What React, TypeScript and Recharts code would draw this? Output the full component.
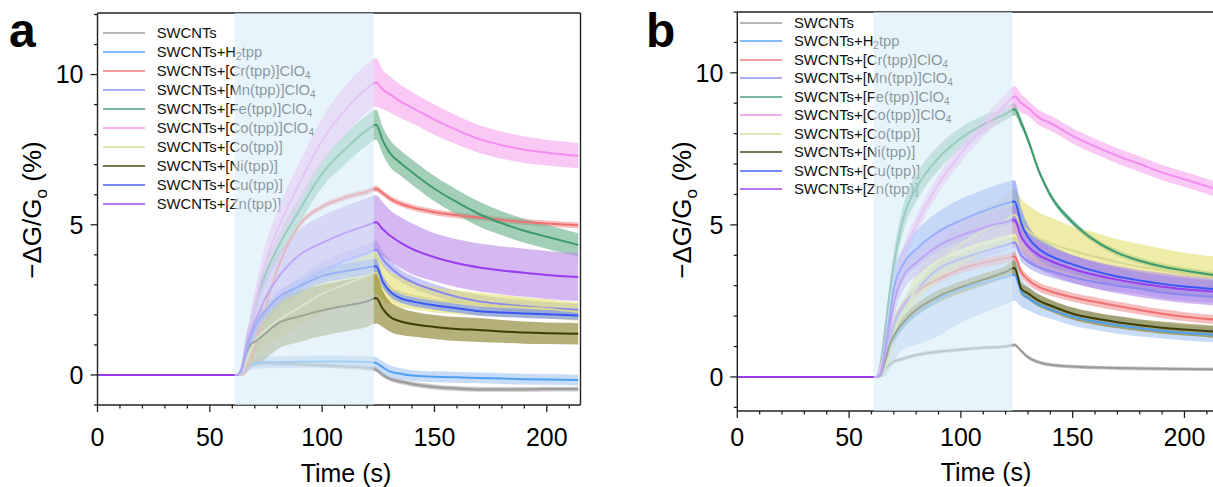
import React from 'react';
import { ComposedChart, Line, Area, XAxis, YAxis, ReferenceArea } from 'recharts';

const FONT = "'Liberation Sans', Arial, Helvetica, sans-serif";

// ---------- data ----------
const timesA = [0, 62, 64, 66, 68, 70, 75, 80, 90, 100, 110, 120, 124, 127, 130, 135, 140, 150, 160, 170, 180, 190, 200, 214];
const timesB = [0, 62, 64, 66, 68, 70, 75, 80, 90, 100, 110, 120, 124, 127, 130, 135, 140, 150, 160, 170, 180, 190, 200, 215];

const legendLabels = [
  'SWCNTs',
  'SWCNTs+H_2tpp',
  'SWCNTs+[Cr(tpp)]ClO_4',
  'SWCNTs+[Mn(tpp)]ClO_4',
  'SWCNTs+[Fe(tpp)]ClO_4',
  'SWCNTs+[Co(tpp)]ClO_4',
  'SWCNTs+[Co(tpp)]',
  'SWCNTs+[Ni(tpp)]',
  'SWCNTs+[Cu(tpp)]',
  'SWCNTs+[Zn(tpp)]',
];

// panel a: mean values
const aSWCNT = [0, 0, 0, 0.15, 0.3, 0.36, 0.39, 0.38, 0.35, 0.32, 0.28, 0.24, 0.18, 0.0, -0.12, -0.22, -0.3, -0.4, -0.45, -0.48, -0.48, -0.48, -0.47, -0.47];
const aH2 = [0, 0, 0, 0.15, 0.3, 0.38, 0.42, 0.42, 0.44, 0.45, 0.45, 0.43, 0.4, 0.25, 0.12, 0.04, -0.02, -0.06, -0.08, -0.1, -0.12, -0.14, -0.15, -0.17];
const aCr = [0, 0, 0, 0.1, 0.4, 0.9, 2.3, 3.5, 5.0, 5.6, 5.9, 6.1, 6.2, 6.05, 5.88, 5.7, 5.58, 5.42, 5.32, 5.24, 5.16, 5.09, 5.04, 4.98];
const aMn = [0, 0, 0.1, 0.6, 1.1, 1.5, 2.0, 2.4, 3.0, 3.45, 3.8, 4.05, 4.17, 3.85, 3.6, 3.3, 3.1, 2.82, 2.6, 2.45, 2.36, 2.29, 2.23, 2.17];
const aFe = [0, 0, 0.1, 0.8, 1.6, 2.3, 3.4, 4.2, 5.5, 6.7, 7.5, 8.15, 8.33, 7.8, 7.4, 7.05, 6.75, 6.2, 5.75, 5.35, 5.05, 4.8, 4.6, 4.33];
const aCoClO4 = [0, 0, 0.1, 0.8, 1.6, 2.3, 3.8, 4.8, 6.4, 7.8, 8.8, 9.55, 9.74, 9.5, 9.35, 9.1, 8.9, 8.5, 8.15, 7.85, 7.65, 7.5, 7.4, 7.3];
const aCo = [0, 0, 0.05, 0.4, 0.8, 1.1, 1.5, 1.8, 2.25, 2.7, 3.0, 3.3, 3.4, 3.1, 2.9, 2.75, 2.65, 2.5, 2.42, 2.36, 2.3, 2.25, 2.2, 2.1];
const aNi = [0, 0, 0.15, 0.7, 1.0, 1.1, 1.4, 1.7, 1.95, 2.15, 2.3, 2.45, 2.56, 2.2, 1.95, 1.78, 1.7, 1.6, 1.53, 1.5, 1.45, 1.41, 1.39, 1.37];
const aCu = [0, 0, 0.1, 0.7, 1.2, 1.6, 2.15, 2.55, 2.95, 3.3, 3.45, 3.58, 3.62, 3.1, 2.8, 2.55, 2.45, 2.32, 2.22, 2.12, 2.08, 2.05, 2.02, 1.98];
const aZn = [0, 0, 0.2, 0.9, 1.4, 1.75, 2.6, 3.2, 4.0, 4.4, 4.72, 4.98, 5.08, 4.85, 4.65, 4.4, 4.2, 3.92, 3.72, 3.58, 3.48, 3.4, 3.33, 3.26];

// panel a: band half-widths
const aSWCNTsd = [0.02, 0.02, 0.02, 0.05, 0.08, 0.08, 0.08, 0.08, 0.08, 0.08, 0.08, 0.08, 0.08, 0.08, 0.08, 0.08, 0.08, 0.08, 0.08, 0.08, 0.08, 0.08, 0.08, 0.08];
const aH2sd = [0.02, 0.02, 0.02, 0.1, 0.15, 0.18, 0.2, 0.2, 0.2, 0.2, 0.2, 0.2, 0.2, 0.2, 0.2, 0.18, 0.18, 0.18, 0.18, 0.18, 0.18, 0.18, 0.18, 0.18];
const aCrsd = [0.02, 0.02, 0.02, 0.05, 0.08, 0.1, 0.1, 0.1, 0.1, 0.1, 0.1, 0.1, 0.1, 0.1, 0.1, 0.1, 0.1, 0.1, 0.1, 0.1, 0.1, 0.1, 0.1, 0.1];
const aMnsd = [0.02, 0.02, 0.05, 0.15, 0.2, 0.2, 0.25, 0.25, 0.25, 0.3, 0.3, 0.3, 0.3, 0.25, 0.25, 0.2, 0.2, 0.2, 0.2, 0.2, 0.2, 0.2, 0.2, 0.2];
const aFesd = [0.02, 0.02, 0.1, 0.2, 0.25, 0.3, 0.35, 0.4, 0.45, 0.45, 0.5, 0.5, 0.5, 0.45, 0.45, 0.42, 0.42, 0.42, 0.42, 0.42, 0.4, 0.4, 0.4, 0.39];
const aCoClO4sd = [0.02, 0.02, 0.1, 0.3, 0.4, 0.5, 0.6, 0.65, 0.7, 0.75, 0.8, 0.8, 0.8, 0.65, 0.6, 0.55, 0.52, 0.5, 0.48, 0.46, 0.45, 0.44, 0.43, 0.42];
const aCosd = [0.02, 0.02, 0.05, 0.3, 0.4, 0.5, 0.55, 0.6, 0.6, 0.65, 0.65, 0.7, 0.7, 0.6, 0.55, 0.5, 0.45, 0.42, 0.4, 0.38, 0.36, 0.34, 0.32, 0.3];
const aNisd = [0.02, 0.02, 0.1, 0.5, 0.7, 0.8, 0.85, 0.85, 0.85, 0.85, 0.85, 0.85, 0.85, 0.6, 0.5, 0.45, 0.42, 0.4, 0.4, 0.4, 0.38, 0.37, 0.36, 0.36];
const aCusd = [0.02, 0.02, 0.05, 0.15, 0.2, 0.2, 0.2, 0.22, 0.22, 0.25, 0.25, 0.25, 0.25, 0.2, 0.18, 0.15, 0.15, 0.15, 0.15, 0.15, 0.15, 0.15, 0.15, 0.15];
const aZnsd = [0.02, 0.02, 0.1, 0.4, 0.5, 0.6, 0.7, 0.8, 0.85, 0.9, 0.9, 0.9, 0.9, 0.9, 0.85, 0.85, 0.85, 0.8, 0.8, 0.8, 0.8, 0.8, 0.8, 0.8];

// panel b: mean values
const bSWCNT = [0, 0, 0.02, 0.25, 0.4, 0.5, 0.62, 0.72, 0.83, 0.9, 0.96, 1.0, 1.05, 0.85, 0.65, 0.48, 0.4, 0.34, 0.31, 0.29, 0.28, 0.27, 0.26, 0.25];
const bH2 = [0, 0, 0.05, 0.4, 0.8, 1.2, 1.75, 2.05, 2.55, 2.88, 3.1, 3.28, 3.36, 2.8, 2.6, 2.38, 2.22, 1.98, 1.82, 1.7, 1.6, 1.52, 1.45, 1.38];
const bCr = [0, 0, 0.05, 0.6, 1.2, 1.75, 2.45, 2.8, 3.22, 3.55, 3.75, 3.9, 3.96, 3.45, 3.2, 2.95, 2.82, 2.62, 2.47, 2.33, 2.2, 2.08, 1.98, 1.88];
const bMn = [0, 0, 0.05, 0.6, 1.2, 1.7, 2.4, 2.85, 3.55, 3.88, 4.12, 4.33, 4.42, 4.0, 3.8, 3.6, 3.48, 3.28, 3.12, 3.0, 2.9, 2.78, 2.7, 2.63];
const bFe = [0, 0, 0.4, 1.5, 2.7, 3.7, 5.4, 6.2, 7.2, 7.85, 8.3, 8.65, 8.8, 8.35, 7.8, 6.75, 5.98, 5.08, 4.48, 4.08, 3.82, 3.63, 3.5, 3.33];
const bCoClO4 = [0, 0, 0.3, 1.0, 2.0, 2.75, 4.15, 5.0, 6.35, 7.35, 8.2, 8.95, 9.22, 9.0, 8.85, 8.52, 8.35, 7.93, 7.58, 7.27, 7.0, 6.72, 6.5, 6.15];
const bCo = [0, 0, 0.05, 0.3, 0.7, 1.4, 2.2, 2.9, 3.75, 4.35, 4.8, 5.15, 5.33, 5.0, 4.8, 4.55, 4.4, 4.15, 3.95, 3.78, 3.62, 3.5, 3.38, 3.25];
const bNi = [0, 0, 0.05, 0.5, 1.0, 1.35, 1.85, 2.2, 2.65, 2.95, 3.2, 3.45, 3.58, 2.9, 2.75, 2.5, 2.35, 2.08, 1.92, 1.8, 1.7, 1.62, 1.56, 1.48];
const bCu = [0, 0, 0.1, 0.9, 1.9, 2.9, 3.8, 4.2, 4.78, 5.15, 5.45, 5.7, 5.77, 5.05, 4.6, 4.2, 3.98, 3.7, 3.48, 3.3, 3.17, 3.06, 2.97, 2.88];
const bZn = [0, 0, 0.1, 0.8, 1.6, 2.4, 3.4, 3.75, 4.32, 4.65, 4.9, 5.1, 5.16, 4.6, 4.3, 4.0, 3.82, 3.55, 3.35, 3.2, 3.07, 2.97, 2.88, 2.8];

// panel b: band half-widths
const bSWCNTsd = [0.02, 0.02, 0.02, 0.05, 0.06, 0.06, 0.06, 0.06, 0.06, 0.06, 0.06, 0.06, 0.06, 0.06, 0.06, 0.06, 0.06, 0.06, 0.06, 0.06, 0.06, 0.06, 0.06, 0.06];
const bH2sd = [0.02, 0.02, 0.05, 0.4, 0.6, 0.7, 0.8, 1.0, 1.2, 1.1, 1.0, 0.9, 0.85, 0.5, 0.4, 0.35, 0.3, 0.3, 0.28, 0.28, 0.27, 0.26, 0.25, 0.25];
const bCrsd = [0.02, 0.02, 0.03, 0.1, 0.15, 0.15, 0.15, 0.15, 0.15, 0.15, 0.15, 0.15, 0.15, 0.15, 0.15, 0.15, 0.15, 0.15, 0.15, 0.15, 0.15, 0.15, 0.15, 0.15];
const bMnsd = [0.02, 0.02, 0.05, 0.15, 0.2, 0.2, 0.2, 0.2, 0.2, 0.2, 0.2, 0.2, 0.2, 0.2, 0.2, 0.2, 0.2, 0.2, 0.2, 0.2, 0.2, 0.2, 0.2, 0.2];
const bFesd = [0.02, 0.02, 0.1, 0.2, 0.3, 0.4, 0.45, 0.45, 0.4, 0.35, 0.3, 0.2, 0.2, 0.15, 0.12, 0.1, 0.1, 0.1, 0.1, 0.1, 0.1, 0.1, 0.1, 0.1];
const bCoClO4sd = [0.02, 0.02, 0.1, 0.2, 0.25, 0.3, 0.3, 0.3, 0.3, 0.3, 0.3, 0.35, 0.35, 0.3, 0.25, 0.25, 0.25, 0.25, 0.25, 0.25, 0.25, 0.25, 0.25, 0.25];
const bCosd = [0.02, 0.02, 0.05, 0.2, 0.3, 0.35, 0.45, 0.5, 0.6, 0.7, 0.75, 0.8, 0.85, 0.85, 0.85, 0.85, 0.85, 0.8, 0.8, 0.75, 0.75, 0.72, 0.7, 0.7];
const bNisd = [0.02, 0.02, 0.03, 0.1, 0.15, 0.2, 0.2, 0.2, 0.2, 0.2, 0.2, 0.2, 0.25, 0.2, 0.2, 0.2, 0.2, 0.2, 0.2, 0.2, 0.2, 0.2, 0.2, 0.2];
const bCusd = [0.02, 0.02, 0.05, 0.3, 0.4, 0.5, 0.55, 0.6, 0.65, 0.7, 0.7, 0.7, 0.7, 0.5, 0.4, 0.35, 0.35, 0.3, 0.3, 0.3, 0.28, 0.28, 0.28, 0.28];
const bZnsd = [0.02, 0.02, 0.05, 0.3, 0.4, 0.45, 0.45, 0.45, 0.45, 0.45, 0.45, 0.45, 0.45, 0.45, 0.45, 0.45, 0.45, 0.45, 0.45, 0.45, 0.45, 0.45, 0.45, 0.45];

const exposureStart = 61;
const exposureEnd = 123;

const xMajorTicks = [0, 50, 100, 150, 200];
const xAllTicks = [0, 10, 20, 30, 40, 50, 60, 70, 80, 90, 100, 110, 120, 130, 140, 150, 160, 170, 180, 190, 200, 210];
const yMajorTicks = [0, 5, 10];
const yAllTicks = [-1, 0, 1, 2, 3, 4, 5, 6, 7, 8, 9, 10, 11, 12];

// ---------- style ----------
const lineColors = ['#9a9a9a', '#4fa0f2', '#f07070', '#8888f0', '#3d9a70', '#f58cf0', '#d8d890', '#3c3c05', '#3858f5', '#9a3cf0'];
const bandColors = ['#a3a3a3', '#a3c5f3', '#f39393', '#a3a3f3', '#66af89', '#f5a3ee', '#e3df6e', '#847b21', '#6e89f3', '#b989e9'];
const AXIS = '#222';

function buildRows(times: number[], means: number[][], spreads: number[][]) {
  return times.map((t, i) => {
    const row: any = { t };
    means.forEach((m, k) => {
      row['m' + k] = m[i];
      row['b' + k] = [m[i] - spreads[k][i], m[i] + spreads[k][i]];
    });
    return row;
  });
}

const rowsA = buildRows(
  timesA,
  [aSWCNT, aH2, aCr, aMn, aFe, aCoClO4, aCo, aNi, aCu, aZn],
  [aSWCNTsd, aH2sd, aCrsd, aMnsd, aFesd, aCoClO4sd, aCosd, aNisd, aCusd, aZnsd]
);
const rowsB = buildRows(
  timesB,
  [bSWCNT, bH2, bCr, bMn, bFe, bCoClO4, bCo, bNi, bCu, bZn],
  [bSWCNTsd, bH2sd, bCrsd, bMnsd, bFesd, bCoClO4sd, bCosd, bNisd, bCusd, bZnsd]
);

function XTick(props: any) {
  const { x, y, payload, gap } = props;
  const major = xMajorTicks.includes(payload.value);
  return (
    <g>
      <line x1={x} x2={x} y1={y} y2={y + (major ? 7 : 3.5)} stroke={AXIS} strokeWidth={1.3} />
      {major && (
        <text x={x} y={y + 7 + gap} dy="0.71em" textAnchor="middle" fontSize={25} fill="#000" fontFamily={FONT}>
          {payload.value}
        </text>
      )}
    </g>
  );
}

function YTick(props: any) {
  const { x, y, payload } = props;
  const major = yMajorTicks.includes(payload.value);
  return (
    <g>
      <line x1={x - (major ? 7 : 3.5)} x2={x} y1={y} y2={y} stroke={AXIS} strokeWidth={1.3} />
      {major && (
        <text x={x - 14} y={y} dy="0.355em" textAnchor="end" fontSize={25} fill="#000" fontFamily={FONT}>
          {payload.value}
        </text>
      )}
    </g>
  );
}

type Margin = { top: number; right: number; bottom: number; left: number };

function Panel(props: { rows: any[]; yDomain: [number, number]; width: number; height: number; margin: Margin; xGap: number }) {
  const { rows, yDomain, width, height, margin, xGap } = props;
  const axisLine = { stroke: AXIS, strokeWidth: 1.4 };
  const items: any[] = [];
  lineColors.forEach((c, k) => {
    items.push(
      <Area
        key={'b' + k}
        dataKey={'b' + k}
        type="monotone"
        stroke="none"
        fill={bandColors[k]}
        fillOpacity={0.6}
        dot={false}
        activeDot={false}
        isAnimationActive={false}
      />
    );
    items.push(
      <Line
        key={'m' + k}
        dataKey={'m' + k}
        type="monotone"
        stroke={c}
        strokeWidth={2}
        dot={false}
        activeDot={false}
        isAnimationActive={false}
      />
    );
  });
  return (
    <ComposedChart width={width} height={height} data={rows} margin={margin}>
      <XAxis dataKey="t" type="number" domain={[0, 215]} ticks={xAllTicks} interval={0} height={1}
        tickSize={0} tickMargin={0} axisLine={axisLine} tickLine={false}
        tick={(p: any) => <XTick {...p} gap={xGap} />} />
      <XAxis xAxisId="top" orientation="top" dataKey="t" type="number" domain={[0, 215]} height={1}
        axisLine={axisLine} tickLine={false} tick={false} />
      <YAxis type="number" domain={yDomain} ticks={yAllTicks} interval={0} width={1}
        tickSize={0} tickMargin={0} axisLine={axisLine} tickLine={false}
        tick={(p: any) => <YTick {...p} />} />
      <YAxis yAxisId="right" orientation="right" type="number" domain={yDomain} width={1}
        axisLine={axisLine} tickLine={false} tick={false} />
      {items}
      <ReferenceArea x1={exposureStart} x2={exposureEnd} fill="#d9edf8" fillOpacity={0.6} stroke="none" {...({ zIndex: 1600 } as any)} />
    </ComposedChart>
  );
}

function renderLabel(s: string) {
  const parts = s.split(/_(\d)/);
  return parts.map((p, i) =>
    i % 2 === 1 ? (
      <span key={i} style={{ fontSize: 10, position: 'relative', top: 3 }}>{p}</span>
    ) : (
      <span key={i}>{p}</span>
    )
  );
}

function Legend(props: { left: number; top: number; rowH: number }) {
  const { left, top, rowH } = props;
  return (
    <div style={{ position: 'absolute', left, top, fontFamily: FONT, fontSize: 14.8, color: '#111', zIndex: 0 }}>
      {legendLabels.map((l, k) => (
        <div key={k} style={{ height: rowH, display: 'flex', alignItems: 'center', whiteSpace: 'nowrap' }}>
          <span style={{ display: 'inline-block', width: 42, height: 2, background: lineColors[k], opacity: 0.7, marginRight: 12 }} />
          <span>{renderLabel(l)}</span>
        </div>
      ))}
    </div>
  );
}

export default function App() {
  return (
    <div style={{ position: 'absolute', left: 0, top: 0, width: 1213, height: 487, overflow: 'hidden', background: '#fff', fontFamily: FONT }}>
      <Legend left={102.7} top={23.5} rowH={19} />
      <Legend left={740} top={13.5} rowH={18.5} />
      <div style={{ position: 'absolute', left: 0, top: 0, zIndex: 1 }}>
        <Panel rows={rowsA} yDomain={[-1, 12.05]} width={600} height={487}
          margin={{ top: 12, right: 18.5, bottom: 81, left: 96.5 }} xGap={16} />
      </div>
      <div style={{ position: 'absolute', left: 620, top: 0, zIndex: 1 }}>
        <Panel rows={rowsB} yDomain={[-1.12, 12]} width={620} height={487}
          margin={{ top: 11, right: 21, bottom: 75, left: 116.3 }} xGap={10} />
      </div>
      <svg width={1213} height={487} style={{ position: 'absolute', left: 0, top: 0, zIndex: 2, pointerEvents: 'none' }} fontFamily={FONT}>
        <text x={9} y={47} fontSize={48} fontWeight="bold" fill="#000">a</text>
        <text x={646} y={47} fontSize={48} fontWeight="bold" fill="#000">b</text>
        <text transform="translate(41,210) rotate(-90)" textAnchor="middle" fontSize={26} fill="#000">
          −ΔG/G<tspan fontSize={17} dy={6}>o</tspan><tspan dy={-6}> (%)</tspan>
        </text>
        <text transform="translate(691,210) rotate(-90)" textAnchor="middle" fontSize={26} fill="#000">
          −ΔG/G<tspan fontSize={17} dy={6}>o</tspan><tspan dy={-6}> (%)</tspan>
        </text>
        <text x={346} y={482} textAnchor="middle" fontSize={25} fill="#000">Time (s)</text>
        <text x={986} y={481} textAnchor="middle" fontSize={25} fill="#000">Time (s)</text>
      </svg>
    </div>
  );
}
